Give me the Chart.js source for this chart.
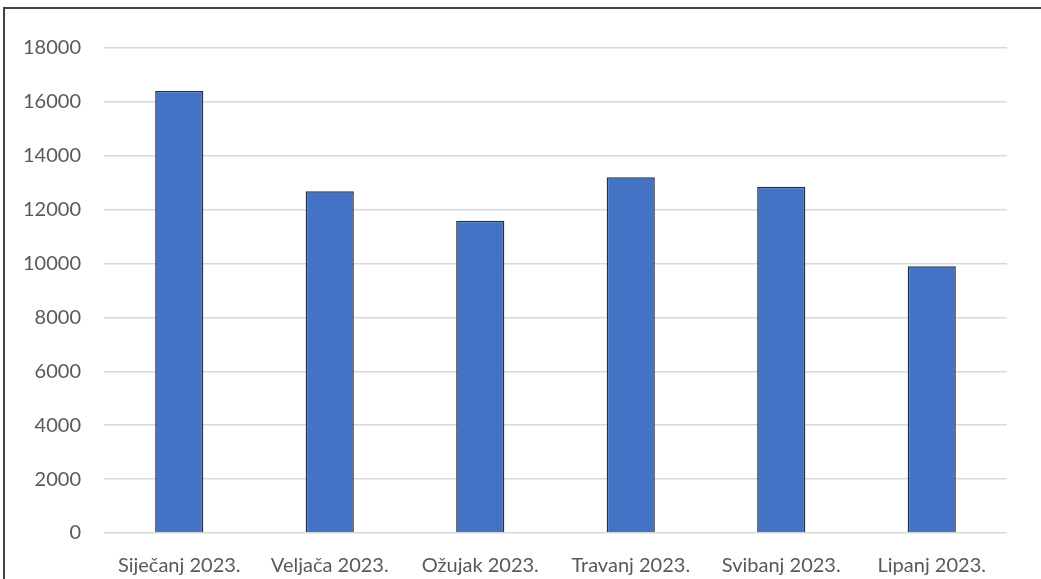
<!DOCTYPE html>
<html>
<head>
<meta charset="utf-8">
<script src="https://cdn.jsdelivr.net/npm/chart.js@4/dist/chart.umd.min.js"></script>
<style>
html,body{margin:0;padding:0;background:#fff;}
#wrap{position:relative;width:1041px;height:579px;}
</style>
</head>
<body>
<div id="wrap"><canvas id="c" width="1041" height="579"></canvas></div>
<script>
const categories = ["Siječanj 2023.", "Veljača 2023.", "Ožujak 2023.", "Travanj 2023.", "Svibanj 2023.", "Lipanj 2023."];
const values = [16400, 12680, 11590, 13200, 12850, 9900];
const yMin = 0, yMax = 18000, yStep = 2000;

const FONT = "Lato, 'Open Sans', sans-serif";

const framePlugin = {
  id: 'frame',
  afterDraw(chart) {
    const ctx = chart.ctx;
    ctx.save();
    ctx.strokeStyle = '#3b4450';
    ctx.lineWidth = 2;
    ctx.beginPath();
    ctx.moveTo(4, 579);
    ctx.lineTo(4, 8);
    ctx.lineTo(1041, 8);
    ctx.stroke();
    ctx.restore();
  }
};

new Chart(document.getElementById('c'), {
  type: 'bar',
  data: {
    labels: categories,
    datasets: [{
      data: values,
      backgroundColor: '#4472C4',
      borderColor: '#263040',
      borderWidth: 1.5,
      barPercentage: 0.32,
      categoryPercentage: 1
    }]
  },
  options: {
    responsive: false,
    animation: false,
    devicePixelRatio: 1,
    layout: { padding: { left: 4, top: 48, right: 34, bottom: 0 } },
    plugins: { legend: { display: false }, tooltip: { enabled: false } },
    scales: {
      x: {
        grid: { display: false },
        border: { display: false },
        ticks: { color: '#595959', font: { family: FONT, size: 20 }, padding: 13, maxRotation: 0, autoSkip: false },
        afterFit(s) { s.height = 46; }
      },
      y: {
        min: yMin, max: yMax,
        grid: { color: '#d9d9d9', lineWidth: 1.5, drawTicks: false },
        border: { display: false },
        ticks: { stepSize: yStep, color: '#595959', font: { family: FONT, size: 20 }, padding: 23,
                 callback: (v) => String(v) },
        afterFit(s) { s.width = 100; }
      }
    }
  },
  plugins: [framePlugin]
});
</script>
</body>
</html>
